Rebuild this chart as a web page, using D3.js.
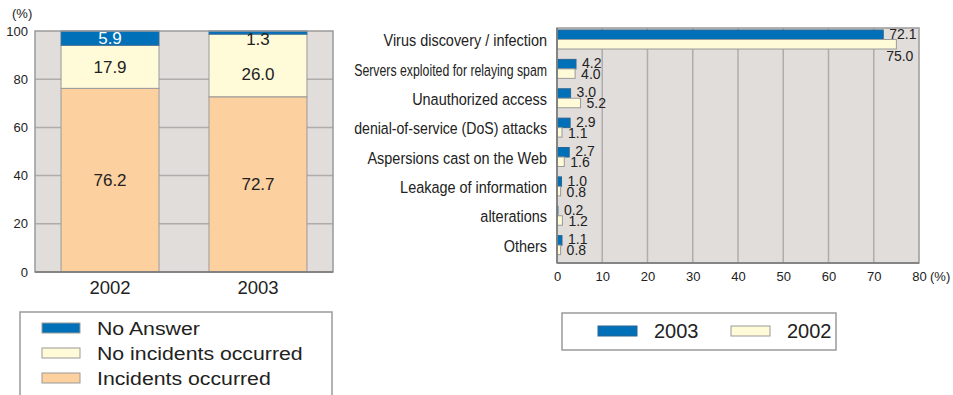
<!DOCTYPE html>
<html>
<head>
<meta charset="utf-8">
<script src="https://cdn.jsdelivr.net/npm/d3@7"></script>
<style>
  body { margin: 0; background: #fff; }
  svg { font-family: "Liberation Sans", Arial, sans-serif; }
</style>
</head>
<body>
<div id="chart"></div>
<script>
var width = 953, height = 395;

// ---- data: left stacked chart ----
var years = ["2002", "2003"];
var stackKeys = ["Incidents occurred", "No incidents occurred", "No Answer"];
var incidents = [76.2, 72.7];
var noIncidents = [17.9, 26.0];
var noAnswer = [5.9, 1.3];
var yTicks = [0, 20, 40, 60, 80, 100];

// ---- data: right bar chart ----
var categories = ["Virus discovery / infection", "Servers exploited for relaying spam",
  "Unauthorized access", "denial-of-service (DoS) attacks", "Aspersions cast on the Web",
  "Leakage of information", "alterations", "Others"];
var values2003 = [72.1, 4.2, 3.0, 2.9, 2.7, 1.0, 0.2, 1.1];
var values2002 = [75.0, 4.0, 5.2, 1.1, 1.6, 0.8, 1.2, 0.8];
var xTicks = [0, 10, 20, 30, 40, 50, 60, 70, 80];

var blue = "#0070b8", cream = "#fffad8", peach = "#fdd0a0";
var plotBg = "#e1dddb", gridCol = "#b0acab", borderCol = "#9a9a9a";
var ink = "#222";

var svg = d3.select('#chart')
  .append('svg')
  .attr('width', width)
  .attr('height', height);

// =============== left chart ===============
var L = {left: 35, right: 333, top: 31, bottom: 272};
var yL = d3.scaleLinear().domain([0, 100]).range([L.bottom, L.top]);
var xL = d3.scaleBand().domain(years).range([L.left, L.right]).paddingInner(0.338).paddingOuter(0.176);

svg.append('rect')
  .attr('x', L.left).attr('y', L.top)
  .attr('width', L.right - L.left).attr('height', L.bottom - L.top)
  .attr('fill', plotBg);

svg.append('g').selectAll('line')
  .data(yTicks.slice(1, -1))
  .enter().append('line')
  .attr('x1', L.left).attr('x2', L.right)
  .attr('y1', function(d){ return yL(d); })
  .attr('y2', function(d){ return yL(d); })
  .attr('stroke', gridCol).attr('stroke-width', 1.5);

var stackRows = years.map(function(y, i){
  return {year: y, "Incidents occurred": incidents[i], "No incidents occurred": noIncidents[i], "No Answer": noAnswer[i]};
});
var series = d3.stack().keys(stackKeys)(stackRows);
var stackColor = d3.scaleOrdinal().domain(stackKeys).range([peach, cream, blue]);

series.forEach(function(s){
  svg.append('g').selectAll('rect')
    .data(s)
    .enter().append('rect')
    .attr('x', function(d){ return xL(d.data.year); })
    .attr('width', xL.bandwidth())
    .attr('y', function(d){ return yL(d[1]); })
    .attr('height', function(d){ return yL(d[0]) - yL(d[1]); })
    .attr('fill', stackColor(s.key))
    .attr('stroke', s.key === "No Answer" ? "#3a6f9a" : borderCol)
    .attr('stroke-width', 1);
});

// segment labels
series.forEach(function(s){
  svg.append('g').selectAll('text')
    .data(s)
    .enter().append('text')
    .attr('x', function(d){ return xL(d.data.year) + xL.bandwidth() / 2; })
    .attr('y', function(d){
      var v = d[1] - d[0];
      if (s.key === "No Answer" && v < 3) return yL(d[0]) + 5;
      var yc = (yL(d[0]) + yL(d[1])) / 2;
      if (s.key === "No incidents occurred" && d.data["No Answer"] < 3) yc += 9;
      return yc;
    })
    .attr('dy', '0.35em')
    .attr('text-anchor', 'middle')
    .attr('font-size', 17)
    .attr('fill', function(d){
      return (s.key === "No Answer" && d[1] - d[0] >= 3) ? "#fff" : ink;
    })
    .text(function(d){ return (d[1] - d[0]).toFixed(1); });
});

// border
svg.append('rect')
  .attr('x', L.left).attr('y', L.top)
  .attr('width', L.right - L.left).attr('height', L.bottom - L.top)
  .attr('fill', 'none').attr('stroke', borderCol).attr('stroke-width', 1.5);
svg.append('line')
  .attr('x1', L.left).attr('x2', L.right)
  .attr('y1', L.bottom).attr('y2', L.bottom)
  .attr('stroke', '#777').attr('stroke-width', 1.5);

var yAxisL = svg.append('g')
  .attr('transform', 'translate(' + L.left + ',0)')
  .call(d3.axisLeft(yL).tickValues(yTicks).tickSize(0).tickPadding(7));
yAxisL.select('.domain').remove();
yAxisL.selectAll('text').attr('font-size', 13).attr('fill', ink)
  .attr('font-family', '"Liberation Sans", Arial, sans-serif');

svg.append('text').attr('x', 12).attr('y', 18).attr('font-size', 13).attr('fill', ink).text('(%)');

var xAxisL = svg.append('g')
  .attr('transform', 'translate(0,' + L.bottom + ')')
  .call(d3.axisBottom(xL).tickSize(0).tickPadding(9));
xAxisL.select('.domain').remove();
xAxisL.selectAll('text').attr('font-size', 18.5).attr('fill', ink)
  .attr('font-family', '"Liberation Sans", Arial, sans-serif');

// left legend
svg.append('rect').attr('x', 20).attr('y', 312).attr('width', 312).attr('height', 100)
  .attr('fill', '#fff').attr('stroke', borderCol).attr('stroke-width', 1.5);
var legL = svg.append('g').selectAll('g')
  .data(stackKeys.slice().reverse())
  .enter().append('g')
  .attr('transform', function(d, i){ return 'translate(42,' + (328 + i * 25) + ')'; });
legL.append('rect').attr('x', 0).attr('y', -5).attr('width', 38).attr('height', 10)
  .attr('fill', function(d){ return stackColor(d); })
  .attr('stroke', borderCol).attr('stroke-width', 1);
legL.append('text')
  .attr('transform', 'translate(55,0) scale(1.12,1)')
  .attr('dy', '0.35em').attr('font-size', 19).attr('fill', ink)
  .text(function(d){ return d; });

// =============== right chart ===============
var R = {left: 557, right: 919, top: 28, bottom: 263};
var xR = d3.scaleLinear().domain([0, 80]).range([R.left, R.right]);
var yR = d3.scaleBand().domain(categories).range([R.top, R.bottom]);
var barH = 9.5;

svg.append('rect')
  .attr('x', R.left).attr('y', R.top)
  .attr('width', R.right - R.left).attr('height', R.bottom - R.top)
  .attr('fill', plotBg);

svg.append('g').selectAll('line')
  .data(xTicks.slice(1, -1))
  .enter().append('line')
  .attr('x1', function(d){ return xR(d); })
  .attr('x2', function(d){ return xR(d); })
  .attr('y1', R.top).attr('y2', R.bottom)
  .attr('stroke', gridCol).attr('stroke-width', 1.5);

svg.append('g').selectAll('rect')
  .data(values2003)
  .enter().append('rect')
  .attr('x', xR(0))
  .attr('y', function(d, i){ return yR(categories[i]) + 2; })
  .attr('width', function(d){ return xR(d) - xR(0); })
  .attr('height', barH)
  .attr('fill', blue).attr('stroke', '#2c6591').attr('stroke-width', 1);

svg.append('g').selectAll('rect')
  .data(values2002)
  .enter().append('rect')
  .attr('x', xR(0))
  .attr('y', function(d, i){ return yR(categories[i]) + 2 + barH; })
  .attr('width', function(d){ return xR(d) - xR(0); })
  .attr('height', barH)
  .attr('fill', cream).attr('stroke', borderCol).attr('stroke-width', 1);

// value labels
svg.append('g').selectAll('text')
  .data(values2003)
  .enter().append('text')
  .attr('x', function(d){ return xR(d) + 6; })
  .attr('y', function(d, i){ return yR(categories[i]) + 2 + barH / 2 - 1; })
  .attr('dy', '0.35em')
  .attr('font-size', 14).attr('fill', ink)
  .text(function(d){ return d.toFixed(1); });

svg.append('g').selectAll('text')
  .data(values2002)
  .enter().append('text')
  .attr('x', function(d){ return d > 60 ? xR(d) + 17 : xR(d) + 6; })
  .attr('y', function(d, i){
    var yc = yR(categories[i]) + 2 + barH * 1.5 + 0.5;
    return d > 60 ? yc + 11 : yc;
  })
  .attr('text-anchor', function(d){ return d > 60 ? 'end' : 'start'; })
  .attr('dy', '0.35em')
  .attr('font-size', 14).attr('fill', ink)
  .text(function(d){ return d.toFixed(1); });

svg.append('rect')
  .attr('x', R.left).attr('y', R.top)
  .attr('width', R.right - R.left).attr('height', R.bottom - R.top)
  .attr('fill', 'none').attr('stroke', borderCol).attr('stroke-width', 1.5);
svg.append('line')
  .attr('x1', R.left).attr('x2', R.right)
  .attr('y1', R.bottom).attr('y2', R.bottom)
  .attr('stroke', '#777').attr('stroke-width', 1.5);
svg.append('line')
  .attr('x1', R.left).attr('x2', R.left)
  .attr('y1', R.top).attr('y2', R.bottom)
  .attr('stroke', '#777').attr('stroke-width', 1.5);

var xAxisR = svg.append('g')
  .attr('transform', 'translate(0,' + R.bottom + ')')
  .call(d3.axisBottom(xR).tickValues(xTicks).tickSize(0).tickPadding(9));
xAxisR.select('.domain').remove();
xAxisR.selectAll('text').attr('font-size', 13).attr('fill', ink)
  .attr('font-family', '"Liberation Sans", Arial, sans-serif');
svg.append('text').attr('x', R.right + 11).attr('y', R.bottom + 9).attr('dy', '0.71em')
  .attr('font-size', 13).attr('fill', ink).text('(%)');

// category labels: condensed, long ones squeezed to fit the space left of the plot
var labelRight = 547, labelMaxW = 193;
svg.append('g').selectAll('text')
  .data(categories)
  .enter().append('text')
  .attr('dy', '0.35em')
  .attr('text-anchor', 'end')
  .attr('font-size', 17).attr('fill', ink)
  .text(function(d){ return d; })
  .attr('transform', function(d){
    var w = this.getComputedTextLength();
    var k = Math.min(0.85, labelMaxW / w);
    return 'translate(' + labelRight + ',' + (yR(d) + yR.bandwidth() / 2 - 2.5) + ') scale(' + k + ',1)';
  });

// right legend
var legendYears = ["2003", "2002"];
var legendCols = [blue, cream];
svg.append('rect').attr('x', 562).attr('y', 313).attr('width', 274).attr('height', 37)
  .attr('fill', '#fff').attr('stroke', borderCol).attr('stroke-width', 1.5);
var legR = svg.append('g').selectAll('g')
  .data(legendYears)
  .enter().append('g')
  .attr('transform', function(d, i){ return 'translate(' + (598 + i * 133) + ',331)'; });
legR.append('rect').attr('x', 0).attr('y', -5).attr('width', 39).attr('height', 10)
  .attr('fill', function(d, i){ return legendCols[i]; })
  .attr('stroke', function(d, i){ return i === 0 ? '#2c6591' : borderCol; }).attr('stroke-width', 1);
legR.append('text').attr('x', 56).attr('dy', '0.35em').attr('font-size', 20).attr('fill', ink)
  .text(function(d){ return d; });
</script>
</body>
</html>
